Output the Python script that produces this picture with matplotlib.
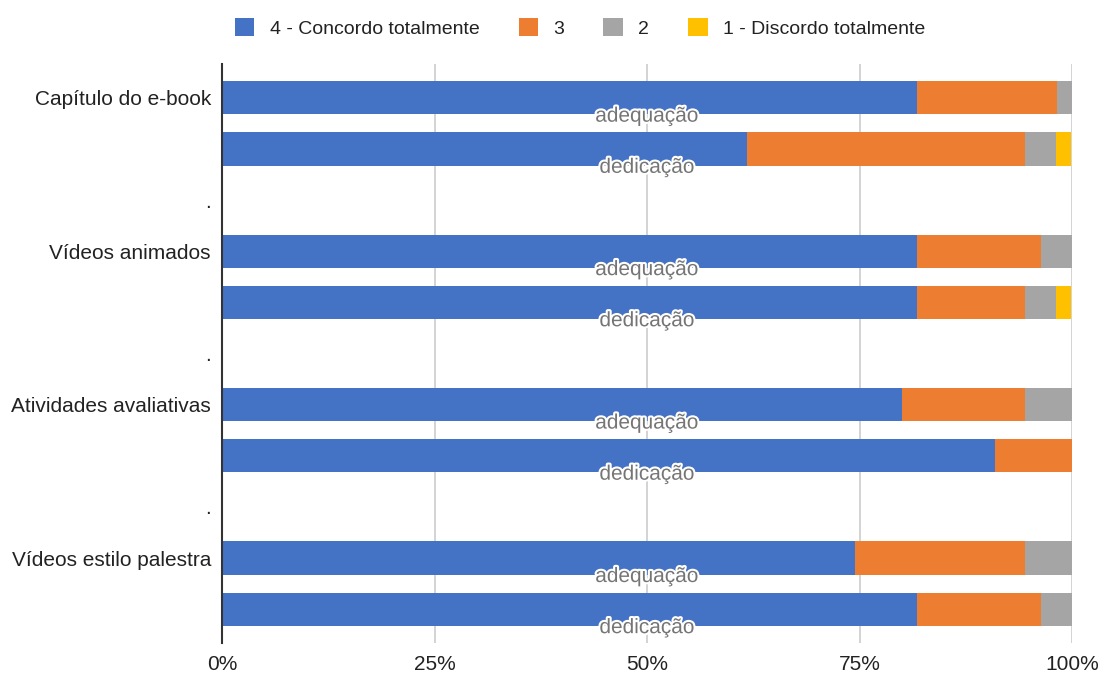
import matplotlib.pyplot as plt
import matplotlib.patheffects as pe
import numpy as np

plt.rcParams['font.family'] = ['Liberation Sans', 'DejaVu Sans']

# | Data |---------------------------------------------------------------|
groups = ["Capítulo do e-book", "Vídeos animados",
          "Atividades avaliativas", "Vídeos estilo palestra"]
bar_names = ["adequação", "dedicação"]
series = ["4 - Concordo totalmente", "3", "2", "1 - Discordo totalmente"]
colors = ["#4472C4", "#ED7D31", "#A5A5A5", "#FFC000"]

# percentages per bar (adequação, dedicação for each group)
s4 = [81.8, 61.8, 81.8, 81.8, 80.0, 90.9, 74.5, 81.8]
s3 = [16.4, 32.7, 14.6, 12.7, 14.5, 9.1, 20.0, 14.6]
s2 = [1.8, 3.6, 3.6, 3.6, 5.5, 0.0, 5.5, 3.6]
s1 = [0.0, 1.8, 0.0, 1.8, 0.0, 0.0, 0.0, 0.0]
x_ticks = [0, 25, 50, 75, 100]
# |----------------------------------------------------------------------|

values = np.array([s4, s3, s2, s1])

# row positions: two bars per group, one blank row between groups
rows = []
tick_pos, tick_lab = [], []
r = 0
for g, name in enumerate(groups):
    rows += [r, r + 1]
    tick_pos.append(r)
    tick_lab.append(name)
    if g < len(groups) - 1:
        tick_pos.append(r + 2)
        tick_lab.append(".")
    r += 3
rows = np.array(rows)

fig = plt.figure(figsize=(11.01, 6.74), dpi=100)
ax = fig.add_axes([222 / 1101, 1 - 643 / 674, 850 / 1101, 579 / 674])

left = np.zeros(len(rows))
for vals, lab, c in zip(values, series, colors):
    ax.barh(rows, vals, left=left, height=0.65, color=c, label=lab, zorder=2)
    left += vals

for i, y in enumerate(rows):
    ax.text(50, y + 0.36, bar_names[i % 2], ha="center", va="center",
            fontsize=15, color="#757575", zorder=4,
            path_effects=[pe.withStroke(linewidth=3, foreground="white")])

ax.set_xlim(0, 100)
ax.set_ylim(rows.max() + 0.66, -0.66)
ax.set_xticks(x_ticks)
ax.set_xticklabels([f"{t}%" for t in x_ticks], fontsize=15, color="#222222")
ax.set_yticks(tick_pos)
ax.set_yticklabels(tick_lab, fontsize=15, color="#222222")
ax.tick_params(length=0, pad=8)
ax.tick_params(axis="x", pad=9)

ax.grid(axis="x", color="#cccccc", linewidth=1.2, zorder=0)
for s in ["top", "right", "bottom"]:
    ax.spines[s].set_visible(False)
ax.spines["left"].set_color("#333333")
ax.spines["left"].set_linewidth(1.5)
ax.spines["left"].set_zorder(3)

fig.legend(loc="upper center", bbox_to_anchor=(0.527, 0.999), ncol=4,
           frameon=False, fontsize=14, handlelength=1.0, handleheight=1.0,
           columnspacing=2.0, handletextpad=0.8, labelcolor="#222222")

fig.savefig("out.png", dpi=100)
